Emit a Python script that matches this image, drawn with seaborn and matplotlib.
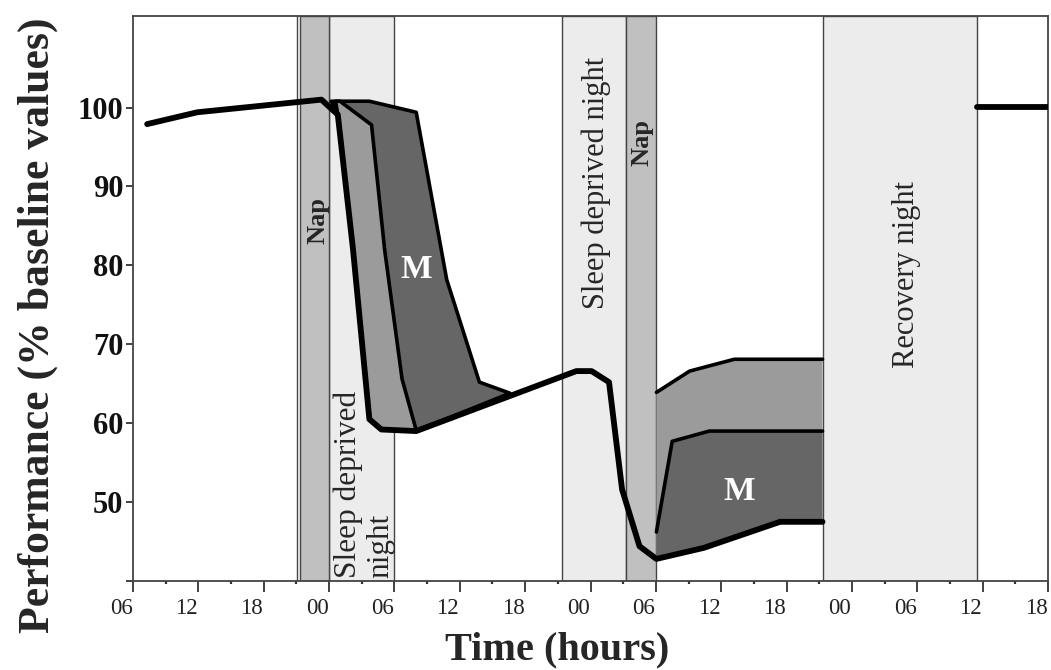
import numpy as np
import pandas as pd
import matplotlib
matplotlib.use("Agg")
import matplotlib.pyplot as plt
import matplotlib.transforms as mtransforms
import seaborn as sns

# ---------------- data (hours from day-1 00:00, % of baseline) ----------------
main_t = [7.3, 11.9, 23.3, 24.8, 26.2, 27.7, 28.8, 32.0, 46.7, 48.1, 49.7, 50.9, 52.5, 54.05, 58.4, 65.4, 69.3]
main_v = [97.9, 99.4, 101.0, 99.1, 82.0, 60.5, 59.2, 59.0, 66.6, 66.6, 65.2, 51.6, 44.4, 42.8, 44.2, 47.5, 47.5]

recov_t = [83.5, 90.0]
recov_v = [100.1, 100.1]

# first window: outer (dark) and middle (light) envelopes above the main curve
outer1_t = [24.2, 27.7, 32.0, 34.8, 37.8, 40.6]
outer1_v = [100.8, 100.8, 99.4, 78.2, 65.2, 63.8]
middle1_t = [24.6, 25.0, 27.9, 29.1, 30.7, 32.0]
middle1_v = [100.8, 100.8, 97.8, 82.0, 65.6, 59.1]

# second window: outer (light) and middle (dark) envelopes above the main curve
outer2_t = [54.05, 54.05, 57.1, 61.2, 69.3]
outer2_v = [43.2, 63.9, 66.6, 68.1, 68.1]
middle2_t = [54.05, 54.05, 55.5, 58.9, 69.3]
middle2_v = [43.2, 46.2, 57.7, 59.0, 59.0]

naps = [(21.3, 24.0), (51.3, 54.05)]
nights = [(24.0, 30.0), (45.4, 51.3), (69.3, 83.5)]

xtick_pos = [6, 12, 18, 24, 30, 36, 42, 48, 54, 60, 66, 72, 78, 84, 90]
xtick_lab = ["06", "12", "18", "00", "06", "12", "18", "00", "06", "12", "18", "00", "06", "12", "18"]
ytick_pos = [40, 50, 60, 70, 80, 90, 100]
ytick_lab = ["", "50", "60", "70", "80", "90", "100"]

# ---------------- style ----------------
sns.set_theme(style="ticks")
plt.rcParams["font.family"] = ["Liberation Serif", "DejaVu Serif"]

fig = plt.figure(figsize=(10.51, 6.70), dpi=100)
ax = fig.add_axes([133 / 1051, 1 - 581 / 670, (1048 - 133) / 1051, (581 - 16) / 670])

NIGHT_C = "#ececec"
NAP_C = "#c0c0c0"
LIGHT_C = "#9b9b9b"
DARK_C = "#666666"
EDGE_C = "#444444"

for a, b in nights:
    ax.axvspan(a, b, facecolor=NIGHT_C, edgecolor=EDGE_C, lw=1.0, zorder=1)
for a, b in naps:
    ax.axvspan(a, b, facecolor=NAP_C, edgecolor=EDGE_C, lw=1.0, zorder=1.5)
ax.axvline(21.05, color=EDGE_C, lw=1.0, zorder=1.6)


def curve_section(t0, t1):
    ts = [t for t in main_t if t0 <= t <= t1]
    vs = [v for t, v in zip(main_t, main_v) if t0 <= t <= t1]
    return ts, vs


# window 1: dark polygon (outer) then light polygon (middle)
bt, bv = curve_section(24.5, 32.5)
poly_t = outer1_t + [32.0] + bt[::-1]
poly_v = outer1_v + [59.0] + bv[::-1]
ax.fill(poly_t, poly_v, facecolor=DARK_C, edgecolor="black", lw=2.6, joinstyle="round", zorder=3)
poly_t = middle1_t + bt[::-1]
poly_v = middle1_v + bv[::-1]
ax.fill(poly_t, poly_v, facecolor=LIGHT_C, edgecolor="black", lw=2.6, joinstyle="round", zorder=3.2)

# window 2: light polygon (outer) then dark polygon (middle)
bt2, bv2 = curve_section(54.0, 69.5)
ax.fill(outer2_t + bt2[::-1], outer2_v + bv2[::-1], facecolor=LIGHT_C, edgecolor="none", zorder=3)
ax.plot(outer2_t[1:], outer2_v[1:], color="black", lw=2.6, zorder=3.1, solid_joinstyle="round")
ax.fill(middle2_t + bt2[::-1], middle2_v + bv2[::-1], facecolor=DARK_C, edgecolor="none", zorder=3.2)
ax.plot(middle2_t[1:], middle2_v[1:], color="black", lw=2.6, zorder=3.3, solid_joinstyle="round")

# main performance curve
df_main = pd.DataFrame({"t": main_t, "v": main_v})
sns.lineplot(data=df_main, x="t", y="v", ax=ax, color="black", lw=4.2, estimator=None,
             sort=False, zorder=5)
df_rec = pd.DataFrame({"t": recov_t, "v": recov_v})
sns.lineplot(data=df_rec, x="t", y="v", ax=ax, color="black", lw=4.2, estimator=None,
             sort=False, zorder=5)
for ln in ax.lines:
    ln.set_solid_joinstyle("round")
    ln.set_solid_capstyle("round")

# annotations
ax.text(22.95, 85.7, "Nap", rotation=90, ha="center", va="center", fontsize=19,
        fontweight="bold", zorder=6)
ax.text(52.7, 95.6, "Nap", rotation=90, ha="center", va="center", fontsize=19,
        fontweight="bold", zorder=6)
ax.text(27.2, 40.4, "Sleep deprived\nnight", rotation=90, ha="center", va="bottom",
        multialignment="left", fontsize=22.5, linespacing=1.15, zorder=6)
ax.text(48.55, 90.4, "Sleep deprived night", rotation=90, ha="center", va="center",
        fontsize=22, zorder=6)
ax.text(77.0, 78.9, "Recovery night", rotation=90, ha="center", va="center",
        fontsize=22, zorder=6)
ax.text(32.0, 79.5, "M", ha="center", va="center", color="white", fontsize=24,
        fontweight="bold", zorder=6)
ax.text(61.66, 51.3, "M", ha="center", va="center", color="white", fontsize=24,
        fontweight="bold", zorder=6)

# axes
ax.set_xlim(6, 90)
ax.set_ylim(40, 111.6)
ax.set_xticks(xtick_pos)
ax.set_xticklabels(xtick_lab, fontsize=16.5)
ax.set_xticks(np.arange(9, 90, 6), minor=True)
ax.set_yticks(ytick_pos)
ax.set_yticklabels(ytick_lab, fontsize=22, fontweight="bold")
ax.tick_params(axis="x", which="major", direction="out", length=8, width=1.3, pad=4, colors="#333333",
               labelcolor="#222222")
ax.tick_params(axis="x", which="minor", direction="out", length=2.5, width=1.6, colors="#333333")
ax.tick_params(axis="y", which="major", direction="out", length=5, width=1.3, pad=2, colors="#333333",
               labelcolor="#111111")
offset = mtransforms.ScaledTranslation(-12 / 100, 0, fig.dpi_scale_trans)
for lab in ax.get_xticklabels():
    lab.set_transform(lab.get_transform() + offset)

for sp in ax.spines.values():
    sp.set_visible(True)
    sp.set_color("#444444")
    sp.set_linewidth(1.3)

ax.set_xlabel("Time (hours)", fontsize=29, fontweight="bold")
ax.set_ylabel("Performance (% baseline values)", fontsize=31.5, fontweight="bold")
ax.xaxis.set_label_coords((557 - 133) / 915, (581 - 650) / 565)
ax.xaxis.label.set_va("center")
ax.yaxis.set_label_coords((38 - 133) / 915, (581 - 325) / 565)
ax.yaxis.label.set_va("center")

fig.savefig("out.png", dpi=100)
